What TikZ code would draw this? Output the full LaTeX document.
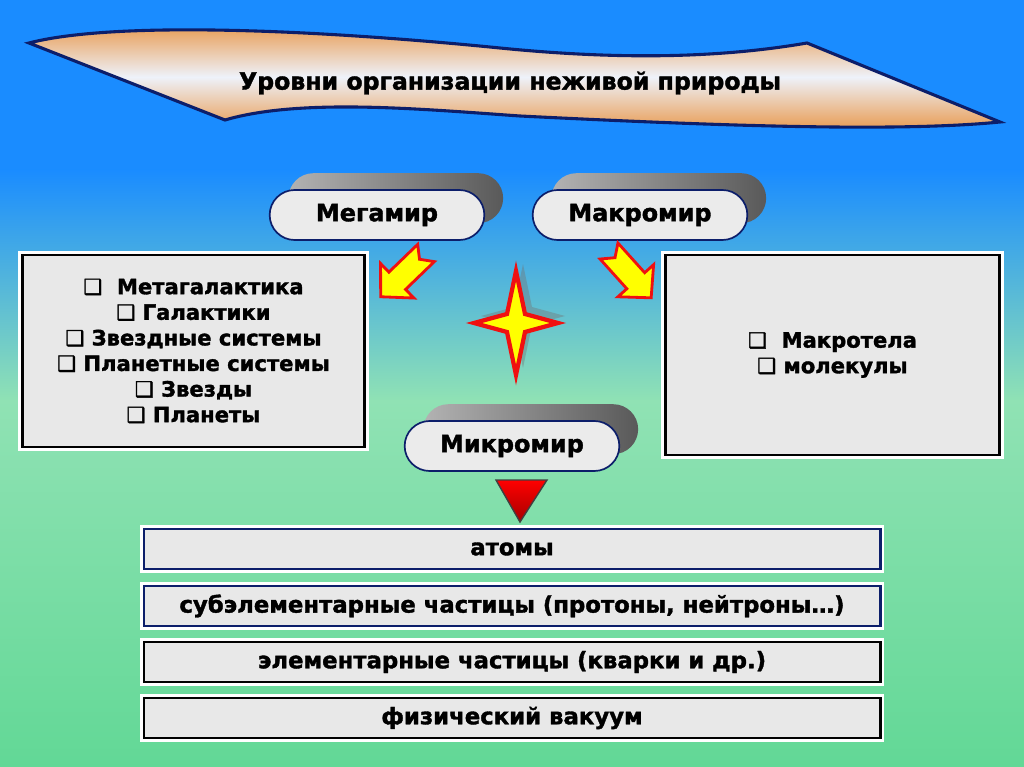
\documentclass[tikz,border=0pt]{standalone}
\usepackage{fontspec}
\setmainfont{DejaVu Sans}[BoldFeatures={FakeBold=1.6}]
\usetikzlibrary{shapes.misc,shadows}
\definecolor{skyblue}{HTML}{1A8CFF}
\definecolor{seamid}{HTML}{90E2B4}
\definecolor{seagreen}{HTML}{62D896}
\definecolor{bannerorange}{HTML}{E8974A}
\definecolor{bannerlight}{HTML}{EEF2FA}
\definecolor{inknavy}{HTML}{0C1E6A}
\definecolor{panelgray}{HTML}{E8E8E8}
\definecolor{starred}{HTML}{F01010}
\definecolor{staryellow}{HTML}{FFFF00}
\newcommand{\chk}{{\fontsize{15}{15}\selectfont ❑}}

\begin{document}
\begin{tikzpicture}[x=0.025cm, y=-0.025cm, font=\bfseries,
  pill/.style={rounded rectangle, draw=inknavy, line width=1.2pt, fill=black!8,
               minimum width=5.6cm, minimum height=1.25cm,
               font=\fontsize{17}{20}\selectfont\bfseries,
               general shadow={shadow xshift=0.47cm, shadow yshift=0.42cm,
                               left color=black!30, right color=black!65}},
  panel/.style={draw=black, line width=2pt, fill=panelgray, align=center,
                preaction={draw=white, line width=6pt},
                font=\fontsize{15}{18.2}\selectfont\bfseries},
  bar/.style={draw=#1, line width=2pt, fill=panelgray,
              minimum width=18.4cm, minimum height=1cm,
              preaction={draw=white, line width=6pt},
              font=\fontsize{16.2}{20}\selectfont\bfseries},
  bar/.default=inknavy,
  blockarrow/.style={fill=staryellow, draw=starred, line width=2pt, line join=miter},
  sparkle/.pic={\path[pic actions] (0,-52) -- (9,-9) -- (42,0) -- (9,9) -- (0,52)
                 -- (-9,9) -- (-42,0) -- (-9,-9) -- cycle;}]
\useasboundingbox (0,0) rectangle (1024,767);
% background
\fill[skyblue] (0,0) rectangle (1024,171);
\shade[top color=skyblue, bottom color=seamid] (0,170) rectangle (1024,401);
\shade[top color=seamid, bottom color=seagreen] (0,400) rectangle (1024,767);
% banner
\draw[inknavy, line width=2.2pt, top color=bannerorange, bottom color=bannerorange,
      middle color=bannerlight]
  (29,43) .. controls (110,22) and (300,28) .. (500,48)
  .. controls (620,60) and (720,58) .. (807,43) -- (1000,122)
  .. controls (900,132) and (720,126) .. (520,116)
  .. controls (420,109) and (300,98) .. (225,120) -- cycle;
\node[font=\fontsize{16.8}{20}\selectfont\bfseries] (title) at (510,83)
  {Уровни организации неживой природы};
% worlds
\node[pill] (mega) at (377,215) {Мегамир};
\node[pill] (macro) at (640,215) {Макромир};
\node[pill] (micro) at (512,446) {Микромир};
% lists
\node[panel, minimum width=8.55cm, minimum height=4.8cm] (megalist) at (193.5,351)
  {\chk\ \ Метагалактика\\ \chk\ Галактики\\ \chk\ Звездные системы\\
   \chk\ Планетные системы\\ \chk\ Звезды\\ \chk\ Планеты};
\node[panel, minimum width=8.35cm, minimum height=5cm] (macrolist) at (832.5,355)
  {\chk\ \ Макротела\\ \chk\ молекулы};
% block arrows
\foreach \tx/\ty/\ang in {426/253/-136, 609/251/-48}
  \draw[blockarrow, shift={(\tx,\ty)}, rotate=\ang]
    (0,-12) -- (40,-12) -- (40,-24) -- (63,0) -- (40,24) -- (40,12) -- (0,12) -- (9,0) -- cycle;
% star
\pic[fill=black!55, opacity=0.4] at (523,316) {sparkle};
\pic[fill=staryellow, draw=starred, line width=3pt, line join=miter] at (516,323) {sparkle};
% down triangle
\draw[black!75, line width=1pt, top color=red, bottom color=red!65!black]
  (496,480) -- (547,480) -- (520,522) -- cycle;
% levels
\node[bar] (atoms) at (512,549) {атомы};
\node[bar] (subparticles) at (512,606) {субэлементарные частицы (протоны, нейтроны…)};
\node[bar=black] (particles) at (512,662) {элементарные частицы (кварки и др.)};
\node[bar=black] (vacuum) at (512,718) {физический вакуум};
\end{tikzpicture}
\end{document}
